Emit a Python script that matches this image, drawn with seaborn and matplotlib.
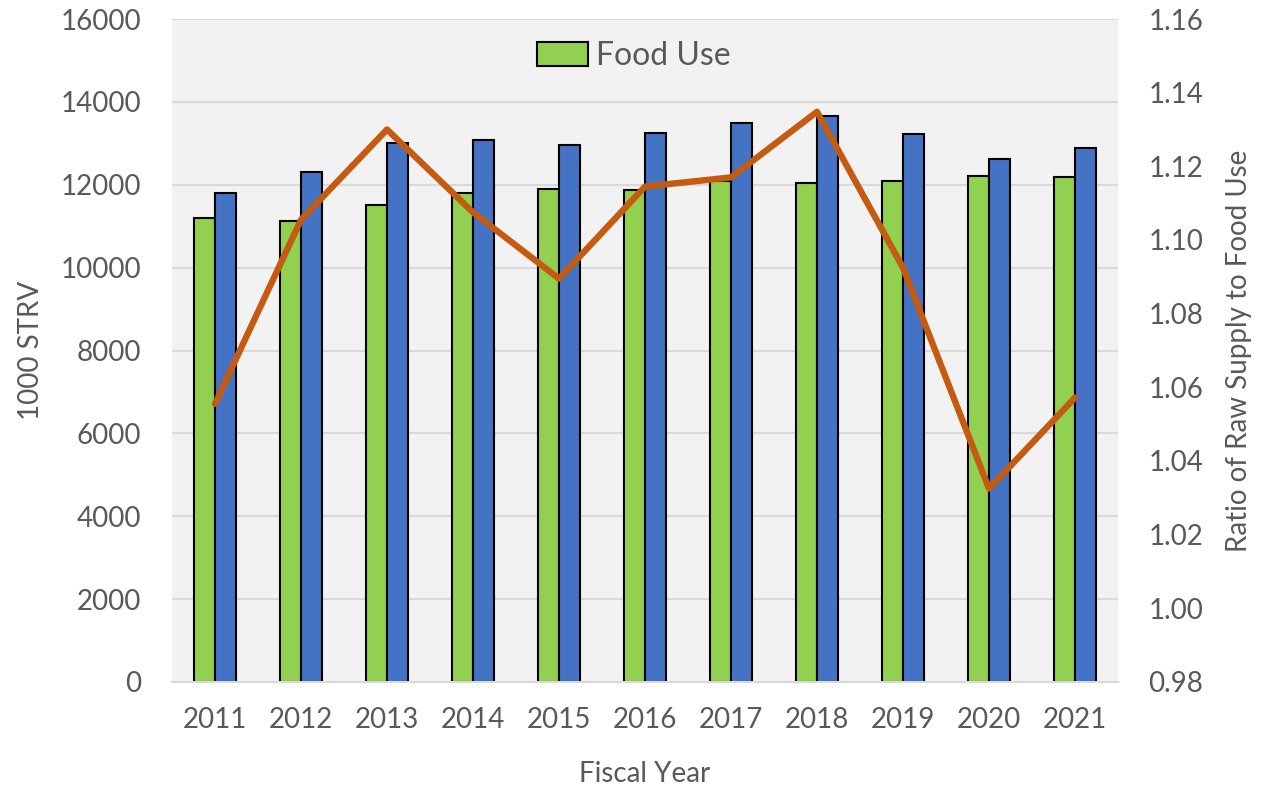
import numpy as np
import pandas as pd
import matplotlib
matplotlib.use("Agg")
import matplotlib.pyplot as plt
import seaborn as sns
from matplotlib.patches import Patch

# Fiscal years and annual volumes (1000 STRV)
years = ["2011", "2012", "2013", "2014", "2015", "2016",
         "2017", "2018", "2019", "2020", "2021"]
food_use = [11190, 11130, 11500, 11810, 11890, 11870,
            12090, 12040, 12100, 12220, 12190]
raw_supply = [11810, 12300, 13000, 13080, 12950, 13240,
              13500, 13660, 13220, 12610, 12890]
# Ratio of raw supply to food use
supply_ratio = [1.0555, 1.1055, 1.1300, 1.1075, 1.0895, 1.1145,
                1.1170, 1.1348, 1.0925, 1.0325, 1.0572]

sns.set_theme(style="white")
plt.rcParams["font.family"] = ["Lato", "DejaVu Sans"]

TEXT = "#595959"
GREEN = "#92D050"
BLUE = "#4472C4"
ORANGE = "#C55A11"
FS = 20

bars = pd.DataFrame({
    "Year": years * 2,
    "Series": ["Food Use"] * len(years) + ["Raw Supply"] * len(years),
    "Volume": food_use + raw_supply,
})
ratio_df = pd.DataFrame({"pos": np.arange(len(years)), "Ratio": supply_ratio})

fig = plt.figure(figsize=(12.76, 7.85), dpi=100)
ax = fig.add_axes([172 / 1276, 1 - 682 / 785, (1118 - 172) / 1276, (682 - 19) / 785])
ax.set_facecolor("#F2F2F2")

sns.barplot(data=bars, x="Year", y="Volume", hue="Series", order=years,
            hue_order=["Food Use", "Raw Supply"],
            palette={"Food Use": GREEN, "Raw Supply": BLUE},
            width=0.48, gap=0, edgecolor="black", linewidth=1.5,
            saturation=1, errorbar=None, legend=False, ax=ax)

ax.set_xlim(-0.5, len(years) - 0.5)
ax.set_ylim(0, 16000)
ax.set_yticks(np.arange(0, 16001, 2000))
ax.yaxis.grid(True, color="#D9D9D9", linewidth=1.5)
ax.xaxis.grid(False)
ax.set_axisbelow(True)
for side in ["top", "right", "left"]:
    ax.spines[side].set_visible(False)
ax.spines["bottom"].set_color("#D9D9D9")
ax.spines["bottom"].set_linewidth(1.5)
ax.tick_params(axis="both", length=0, labelsize=FS, colors=TEXT)
ax.tick_params(axis="y", pad=22)
ax.tick_params(axis="x", pad=18)
ax.set_xlabel("Fiscal Year", fontsize=FS, color=TEXT, labelpad=20)
ax.set_ylabel("1000 STRV", fontsize=FS, color=TEXT, labelpad=12)

ax2 = ax.twinx()
sns.lineplot(data=ratio_df, x="pos", y="Ratio", color=ORANGE, linewidth=4.6,
             ax=ax2, legend=False)
ax2.set_xlim(-0.5, len(years) - 0.5)
ax2.set_ylim(0.98, 1.16)
ax2.set_yticks(np.round(np.arange(0.98, 1.1601, 0.02), 2))
ax2.set_yticklabels([f"{v:.2f}" for v in np.arange(0.98, 1.1601, 0.02)])
for side in ax2.spines:
    ax2.spines[side].set_visible(False)
ax2.tick_params(axis="y", length=0, labelsize=FS, colors=TEXT, pad=22)
ax2.set_ylabel("Ratio of Raw Supply to Food Use", fontsize=FS, color=TEXT, labelpad=16)
ax2.set_xlabel("")

handle = Patch(facecolor=GREEN, edgecolor="black", linewidth=1.5)
leg = ax.legend([handle], ["Food Use"], loc="center",
                bbox_to_anchor=(0.488, 0.944), frameon=False, fontsize=FS + 3,
                labelcolor=TEXT, handlelength=1.6, handleheight=0.75,
                handletextpad=0.25)

fig.savefig("out.png", dpi=100, facecolor="white")
